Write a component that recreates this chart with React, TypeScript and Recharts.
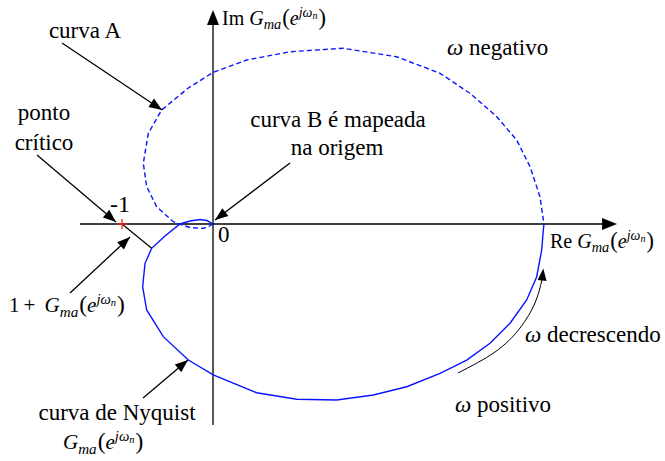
import React from 'react';
import { ComposedChart, Line, XAxis, YAxis, ReferenceLine, ReferenceDot } from 'recharts';

// Nyquist locus, positive frequencies (solid) and negative frequencies (dashed)
const positiveRe = [0, -0.066, -0.143, -0.253, -0.363, -0.527, -0.674, -0.747, -0.773, -0.729, -0.546, -0.271, 0.003, 0.48, 0.92, 1.359, 1.762, 2.129, 2.495, 2.788, 3.044, 3.264, 3.447, 3.557, 3.612, 3.63, 3.637];
const positiveIm = [0, 0.038, 0.049, 0.033, 0, -0.132, -0.267, -0.432, -0.689, -0.945, -1.238, -1.495, -1.659, -1.854, -1.926, -1.934, -1.879, -1.788, -1.641, -1.495, -1.311, -1.091, -0.835, -0.579, -0.286, -0.066, 0];
const negativeRe = [0, -0.066, -0.124, -0.253, -0.363, -0.436, -0.619, -0.729, -0.766, -0.711, -0.564, -0.271, 0.003, 0.37, 0.846, 1.429, 2.019, 2.495, 2.824, 3.118, 3.337, 3.484, 3.593, 3.637];
const negativeIm = [0, -0.038, -0.049, -0.038, -0.005, 0.025, 0.19, 0.41, 0.667, 0.997, 1.253, 1.495, 1.667, 1.802, 1.893, 1.931, 1.838, 1.656, 1.436, 1.179, 0.923, 0.63, 0.3, 0];

// critical point
const criticalRe = -1;
const criticalIm = 0;

// "ω decrescendo" curved arrow path
const sweepRe = [2.692, 3.099, 3.374, 3.538, 3.615];
const sweepIm = [-1.637, -1.407, -1.143, -0.868, -0.615];

const positive = positiveRe.map((x, i) => ({ x, y: positiveIm[i] }));
const negative = negativeRe.map((x, i) => ({ x, y: negativeIm[i] }));
const sweep = sweepRe.map((x, i) => ({ x, y: sweepIm[i] }));

const W = 665;
const H = 461;
const PX = 91; // pixels per unit
const OX = 213;
const OY = 224;
const xDomain = [-OX / PX, (W - OX) / PX];
const yDomain = [-(H - OY) / PX, OY / PX];

const BLUE = '#0a14ff';
const FONT = 'Liberation Serif';

// annotation arrows: [fromRe, fromIm, tipRe, tipIm]
const pointers: [number, number, number, number][] = [
  [-1.659, 1.989, -0.56, 1.253],
  [-1.934, 0.758, -1.066, 0.022],
  [0.846, 0.67, 0.022, 0.044],
  [-1.571, -0.758, -0.912, -0.143],
  [-0.769, -1.912, -0.275, -1.495],
];

const angleOf = (x1: number, y1: number, x2: number, y2: number) =>
  (Math.atan2(-(y2 - y1), x2 - x1) * 180) / Math.PI;

const arrowHead = (angle: number, len = 13, wid = 10) => (props: any) => {
  const { cx, cy } = props;
  if (cx == null || cy == null) return <g />;
  return (
    <polygon
      points={`0,0 ${-len},${-wid / 2} ${-len},${wid / 2}`}
      transform={`translate(${cx},${cy}) rotate(${angle})`}
      fill="#000"
    />
  );
};

const redPlus = (props: any) => {
  const { cx, cy } = props;
  if (cx == null || cy == null) return <g />;
  return (
    <g stroke="#ff2020" strokeWidth={1.3}>
      <line x1={cx - 5} y1={cy} x2={cx + 5} y2={cy} />
      <line x1={cx} y1={cy - 5} x2={cx} y2={cy + 5} />
    </g>
  );
};

// G_ma(e^{jω_n}) built from tspans
const Gma = ({ size }: { size: number }) => (
  <>
    <tspan fontStyle="italic">G</tspan>
    <tspan fontStyle="italic" fontSize={size * 0.72} dy={size * 0.22}>ma</tspan>
    <tspan fontSize={size * 1.12} dy={-size * 0.22} dx={1}>(</tspan>
    <tspan fontStyle="italic">e</tspan>
    <tspan fontStyle="italic" fontSize={size * 0.7} dy={-size * 0.4}>jω</tspan>
    <tspan fontStyle="italic" fontSize={size * 0.5} dy={size * 0.12}>n</tspan>
    <tspan fontSize={size * 1.12} dy={size * 0.28} dx={1}>)</tspan>
  </>
);

const Omega = () => <tspan fontStyle="italic">ω</tspan>;

const Label = ({ x, y, size, anchor, children }: any) => (
  <text x={x} y={y} fontSize={size} textAnchor={anchor || 'start'} fill="#000" style={{ fontFamily: FONT }}>
    {children}
  </text>
);

export default function App() {
  const axisTipX = 4.44;
  const axisTipY = 2.352;
  return (
    <div style={{ position: 'absolute', left: 0, top: 0, width: W, height: H, background: '#fff' }}>
      <ComposedChart width={W} height={H} margin={{ top: 0, right: 0, bottom: 0, left: 0 }}>
        <XAxis type="number" dataKey="x" domain={xDomain} hide allowDataOverflow />
        <YAxis type="number" dataKey="y" domain={yDomain} hide allowDataOverflow />

        {/* axes */}
        <ReferenceLine segment={[{ x: -1.462, y: 0 }, { x: axisTipX - 0.1, y: 0 }]} stroke="#000" strokeWidth={1.3} />
        <ReferenceLine segment={[{ x: 0, y: -2.209 }, { x: 0, y: axisTipY - 0.1 }]} stroke="#000" strokeWidth={1.3} />
        <ReferenceDot x={axisTipX} y={0} r={0} shape={arrowHead(0, 15, 12)} />
        <ReferenceDot x={0} y={axisTipY} r={0} shape={arrowHead(-90, 15, 12)} />

        {/* curves */}
        <Line data={negative} dataKey="y" type="linear" stroke={BLUE} strokeWidth={1.4} strokeDasharray="5 3" dot={false} activeDot={false} isAnimationActive={false} />
        <Line data={positive} dataKey="y" type="linear" stroke={BLUE} strokeWidth={1.4} dot={false} activeDot={false} isAnimationActive={false} />

        {/* 1 + G vector */}
        <ReferenceLine segment={[{ x: criticalRe, y: criticalIm }, { x: positiveRe[6], y: positiveIm[6] }]} stroke="#000" strokeWidth={1.2} />

        {/* pointers */}
        {pointers.map(([x1, y1, x2, y2], i) => (
          <ReferenceLine key={`s${i}`} segment={[{ x: x1, y: y1 }, { x: x2, y: y2 }]} stroke="#000" strokeWidth={1.3} />
        ))}
        {pointers.map(([x1, y1, x2, y2], i) => (
          <ReferenceDot key={`h${i}`} x={x2} y={y2} r={0} shape={arrowHead(angleOf(x1, y1, x2, y2))} />
        ))}

        {/* frequency direction arrow */}
        <Line data={sweep} dataKey="y" type="natural" stroke="#000" strokeWidth={1} dot={false} activeDot={false} isAnimationActive={false} />
        <ReferenceDot x={3.63} y={-0.49} r={0} shape={arrowHead(-84, 12, 9)} />

        <ReferenceDot x={criticalRe} y={criticalIm} r={0} shape={redPlus} />
      </ComposedChart>

      {/* annotation text layer */}
      <svg width={W} height={H} style={{ position: 'absolute', left: 0, top: 0, pointerEvents: 'none' }}>
        <Label x={85} y={38} size={23} anchor="middle">curva A</Label>
        <Label x={447} y={55} size={23}><Omega /> negativo</Label>
        <Label x={44} y={120} size={23} anchor="middle">ponto</Label>
        <Label x={44} y={150} size={23} anchor="middle">crítico</Label>
        <Label x={338} y={127} size={23} anchor="middle">curva B é mapeada</Label>
        <Label x={337} y={155} size={23} anchor="middle">na origem</Label>
        <Label x={110} y={212} size={24}>-1</Label>
        <Label x={218} y={242} size={23}>0</Label>
        <Label x={222} y={25} size={20}>Im <Gma size={20} /></Label>
        <Label x={550} y={248} size={20}>Re <Gma size={20} /></Label>
        <Label x={9} y={312} size={21}>1<tspan dx={4}>+</tspan><tspan dx={4}> </tspan><Gma size={21} /></Label>
        <Label x={525} y={342} size={23}><Omega /> decrescendo</Label>
        <Label x={455} y={412} size={23}><Omega /> positivo</Label>
        <Label x={117} y={420} size={23} anchor="middle">curva de Nyquist</Label>
        <Label x={63} y={449} size={21}><Gma size={21} /></Label>
      </svg>
    </div>
  );
}
